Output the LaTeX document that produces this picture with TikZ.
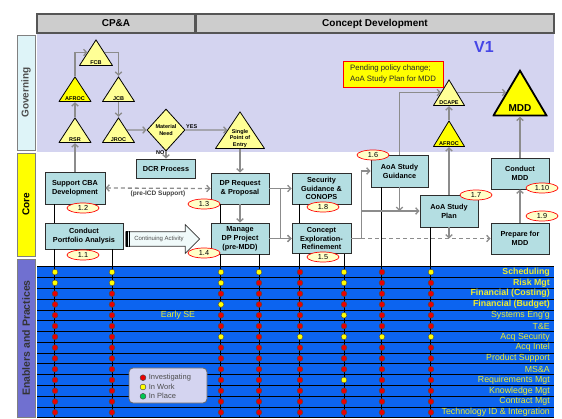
\documentclass[tikz,border=0pt]{standalone}
\usepackage{fontspec}
\setmainfont{Liberation Sans}
\usetikzlibrary{positioning}
\usetikzlibrary{arrows.meta,calc,shapes.geometric,shapes.arrows}

\definecolor{govbg}{RGB}{212,212,240}
\definecolor{boxfill}{RGB}{180,222,226}
\definecolor{boxline}{RGB}{45,45,45}
\definecolor{trilight}{RGB}{255,255,150}
\definecolor{tribright}{RGB}{255,255,0}
\definecolor{tagfill}{RGB}{255,255,200}
\definecolor{rowblue}{RGB}{12,100,240}
\definecolor{rowtext}{RGB}{238,238,45}
\definecolor{flowgray}{RGB}{140,140,140}
\definecolor{dotR}{RGB}{235,0,0}
\definecolor{dotY}{RGB}{255,255,0}
\definecolor{dotG}{RGB}{0,200,80}
\definecolor{hdrgray}{RGB}{205,205,205}
\definecolor{hdrline}{RGB}{85,85,85}
\definecolor{tabcyan}{RGB}{222,244,248}
\definecolor{tabpurple}{RGB}{112,112,208}
\definecolor{vblue}{RGB}{70,70,230}
\definecolor{arrowfill}{RGB}{240,250,250}

\tikzset{
  hdr/.style={draw=hdrline, line width=1.2pt, fill=hdrgray, minimum height=19pt,
    inner sep=0pt, font=\bfseries\fontsize{10}{12}\selectfont},
  sidetab/.style={draw=gray, line width=0.8pt, rotate=90, minimum height=18pt,
    inner sep=0pt, font=\bfseries\fontsize{10}{12}\selectfont},
  procbox/.style={draw=boxline, line width=0.9pt, fill=boxfill, align=center,
    inner sep=1pt, font=\bfseries\fontsize{7.3}{8.8}\selectfont},
  numtag/.style={ellipse, draw=red, line width=0.7pt, fill=tagfill, minimum width=32pt,
    minimum height=10pt, inner sep=0pt, font=\fontsize{7.3}{8}\selectfont},
  tri/.style={inner sep=0pt, path picture={
    \filldraw[fill=#1, draw=black, line width=0.8pt, line join=round]
      ([shift={(0.5pt,0.5pt)}]path picture bounding box.south west) --
      ([yshift=-0.9pt]path picture bounding box.north) --
      ([shift={(-0.5pt,0.5pt)}]path picture bounding box.south east) -- cycle;}},
  tri/.default=trilight,
  mddtri/.style={inner sep=0pt, path picture={
    \filldraw[fill=tribright, draw=black, line width=1.8pt]
      ([shift={(1pt,1pt)}]path picture bounding box.south west) --
      ([yshift=-2.2pt]path picture bounding box.north) --
      ([shift={(-1pt,1pt)}]path picture bounding box.south east) -- cycle;}},
  trilbl/.style={anchor=south, inner sep=1.8pt, align=center,
    font=\bfseries\fontsize{5.5}{6.3}\selectfont},
  smalllbl/.style={inner sep=1pt, font=\bfseries\fontsize{5.5}{6.3}\selectfont},
  flowline/.style={draw=flowgray, line width=1.3pt, ->},
  dflowline/.style={flowline, dash pattern=on 4pt off 3pt},
  dropline/.style={draw=black, line width=0.7pt},
  statdot/.style={circle, draw=black!70, line width=0.5pt, inner sep=0pt, minimum size=5.8pt},
  rowlbl/.style={anchor=east, text=rowtext, inner sep=0pt, font=\fontsize{8.8}{9}\selectfont},
  rowbold/.style={rowlbl, font=\bfseries\fontsize{8.8}{9}\selectfont},
  legtxt/.style={inner sep=0.5pt, text=black!70, font=\fontsize{7.5}{8}\selectfont},
}

\begin{document}
\begin{tikzpicture}[x=1pt,y=-1pt,>={Straight Barb[length=3pt,width=6.5pt]}]
\useasboundingbox (0,0) rectangle (562,419);

\fill[govbg] (37,33) rectangle (554,152);
\fill[rowblue] (37,266.7) rectangle (554,417.7);
\foreach \i in {0,...,14}
  \draw[black, line width=0.7pt] (37,{266.7+\i*10.79}) -- (554,{266.7+\i*10.79});
\coordinate (bot) at (37,417.7);

\node[hdr, minimum width=158pt] (hcpa) at (116,23.5) {CP\&A};
\node[hdr, minimum width=358pt] (hcd) at (375,23.5) {Concept Development};

\node[sidetab, fill=tabcyan, text=black!70, minimum width=115pt] (gov) at (26,92.5) {Governing};
\node[sidetab, fill=tribright, minimum width=103pt] (core) at (26,204.5) {Core};
\node[sidetab, fill=tabpurple, text=black!80, font=\bfseries\fontsize{10.5}{12}\selectfont,
  minimum width=158pt] (enab) at (26,338) {Enablers and Practices};

\foreach \r/\t/\s in {1/Scheduling/rowbold, 2/Risk Mgt/rowbold,
    3/Financial (Costing)/rowbold, 4/Financial (Budget)/rowbold,
    5/Systems Eng'g/rowlbl, 6/T\&E/rowlbl, 7/Acq Security/rowlbl, 8/Acq Intel/rowlbl,
    9/Product Support/rowlbl, 10/MS\&A/rowlbl, 11/Requirements Mgt/rowlbl,
    12/Knowledge Mgt/rowlbl, 13/Contract Mgt/rowlbl, 14/Technology ID \& Integration/rowlbl}
  \node[\s] (lbl\r) at (550,{266.7+(\r-0.5)*10.79}) {\t};
\node[rowlbl, anchor=center] (early) at (178,315.3) {Early SE};

\node[font=\bfseries\fontsize{16}{16}\selectfont, text=vblue] (ver) at (484,47) {V1};
\node[draw=red, line width=0.9pt, fill=tribright, minimum width=100pt, minimum height=26pt,
  align=left, text=black!85, font=\fontsize{7.8}{10.5}\selectfont] (pend) at (393,74)
  {Pending policy change;\\AoA Study Plan for MDD};

\node[tri, minimum width=34pt, minimum height=27pt, label={[trilbl]south:FCB}] (fcb) at (96,52.5) {};
\node[tri=tribright, minimum width=33pt, minimum height=26pt, label={[trilbl]south:AFROC}] (afrocg) at (75,89) {};
\node[tri, minimum width=33pt, minimum height=26pt, label={[trilbl]south:JCB}] (jcb) at (118.5,89) {};
\node[tri, minimum width=33pt, minimum height=26pt, label={[trilbl]south:RSR}] (rsr) at (75,130) {};
\node[tri, minimum width=33pt, minimum height=26pt, label={[trilbl]south:JROC}] (jroc) at (118.5,130) {};
\node[diamond, draw=black, line width=0.8pt, fill=trilight, minimum width=38pt, minimum height=42pt,
  inner sep=0pt, align=center, font=\bfseries\fontsize{5.5}{6.5}\selectfont] (matneed) at (166,130) {Material\\Need};
\node[tri, minimum width=50pt, minimum height=38pt,
  label={[trilbl]south:Single\\Point of\\Entry}] (spe) at (240,130) {};
\node[tri, minimum width=32pt, minimum height=27pt, label={[trilbl]south:DCAPE}] (dcape) at (449,92.5) {};
\node[tri=tribright, minimum width=32pt, minimum height=27pt, label={[trilbl]south:AFROC}] (afrocc) at (449,133.5) {};
\node[mddtri, minimum width=55pt, minimum height=48pt,
  label={[trilbl, inner sep=5pt, font=\bfseries\fontsize{10}{12}\selectfont]south:MDD}] (mdd) at (520,92.5) {};

\node[procbox, minimum width=60pt, minimum height=32pt] (cba) at (75,188) {Support CBA\\Development};
\node[procbox, minimum width=78pt, minimum height=26pt] (cport) at (84,236) {Conduct\\Portfolio Analysis};
\node[procbox, minimum width=59pt, minimum height=19pt] (dcr) at (166,168.5) {DCR Process};
\node[procbox, minimum width=58pt, minimum height=31pt] (dpreq) at (240,188.5) {DP Request\\\& Proposal};
\node[procbox, minimum width=58pt, minimum height=31pt] (mdp) at (240,238.5) {Manage\\DP Project\\(pre-MDD)};
\node[procbox, minimum width=59pt, minimum height=31pt] (secg) at (321.5,188.5) {Security\\Guidance \&\\CONOPS};
\node[procbox, minimum width=59pt, minimum height=30pt] (cexp) at (321.5,238.5) {Concept\\Exploration-\\Refinement};
\node[procbox, minimum width=57pt, minimum height=32pt] (aoag) at (399.5,171) {AoA Study\\Guidance};
\node[procbox, minimum width=58pt, minimum height=32pt] (aoap) at (449,211) {AoA Study\\Plan};
\node[procbox, minimum width=58pt, minimum height=31pt] (cmdd) at (520,173.5) {Conduct\\MDD};
\node[procbox, minimum width=58pt, minimum height=31pt] (pmdd) at (520,238.5) {Prepare for\\MDD};

\node[single arrow, draw=black!80, line width=0.7pt, fill=arrowfill, minimum height=74pt,
  single arrow head extend=7pt, inner xsep=2pt, inner ysep=4.2pt, text=black!70,
  font=\fontsize{6}{7}\selectfont] (cont) at (159,239) {Continuing Activity};
\draw[line width=1.5pt] ([xshift=1.5pt]cont.before tail) -- ([xshift=1.5pt]cont.after tail);
\draw[line width=0.8pt] ([xshift=3.9pt]cont.before tail) -- ([xshift=3.9pt]cont.after tail);

\draw[dropline] ([xshift=10pt]cba.south west) -- ([xshift=10pt]cport.north west)
  ([xshift=10pt]cport.south west) -- ([xshift=10pt]cport.south west |- bot)
  ([xshift=-11pt]cport.south east) -- ([xshift=-11pt]cport.south east |- bot)
  ([xshift=10pt]dpreq.south west) -- ([xshift=10pt]mdp.north west)
  ([xshift=10pt]mdp.south west) -- ([xshift=10pt]mdp.south west |- bot)
  ([xshift=-10pt]mdp.south east) -- ([xshift=-10pt]mdp.south east |- bot)
  ([xshift=8pt]secg.south west) -- ([xshift=8pt]cexp.north west)
  ([xshift=8pt]cexp.south west) -- ([xshift=8pt]cexp.south west |- bot)
  ([xshift=-7pt]cexp.south east) -- ([xshift=-7pt]cexp.south east |- bot)
  ([xshift=11pt]aoag.south west) -- ([xshift=11pt]aoag.south west |- bot)
  ([xshift=11pt]aoap.south west) -- ([xshift=11pt]aoap.south west |- bot);

\node[numtag] (n11) at (83,255) {1.1};
\node[numtag] (n12) at (83,208) {1.2};
\node[numtag] (n13) at (204,204) {1.3};
\node[numtag] (n14) at (204,253) {1.4};
\node[numtag] (n15) at (323,257) {1.5};
\node[numtag] (n16) at (373,155) {1.6};
\node[numtag] (n17) at (476,195) {1.7};
\node[numtag] (n18) at (323,207) {1.8};
\node[numtag] (n19) at (542,216) {1.9};
\node[numtag] (n110) at (542,188) {1.10};

\foreach \r/\cl in {1/{Y,Y,Y,Y,R,Y,R,Y}, 2/{Y,Y,Y,R,R,Y,R,R}, 3/{R,R,R,R,R,R,R,R},
    4/{R,R,Y,R,R,R,R,R}, 5/{R,R,R,R,R,Y,R,R}, 6/{R,R,R,R,R,R,R,R}, 7/{R,R,Y,R,Y,Y,Y,Y},
    8/{R,R,R,R,R,R,R,R}, 9/{R,R,R,R,R,R,R,R}, 10/{R,R,R,R,R,R,R,R}, 11/{R,R,R,R,R,Y,R,R},
    12/{R,R,R,R,R,R,R,R}, 13/{R,R,R,R,R,R,R,R}, 14/{R,R,R,R,R,R,R,R}}
  \foreach \c [count=\k] in \cl {
    \pgfmathsetmacro\dx{{55,112,221,259,300,344,382,431}[\k-1]}
    \node[statdot, fill=dot\c] (d\r-\k) at (\dx,{266.7+(\r-0.5)*10.79}) {};
  }

\node[draw=black!60, line width=0.8pt, rounded corners=4pt, fill=govbg, minimum width=78pt,
  minimum height=35pt] (leg) at (168,385.5) {};
\node[statdot, fill=dotR] (lr) at (143,377.7) {};
\node[legtxt, right=2pt of lr] (lrt) {Investigating};
\node[statdot, fill=dotY, below=3pt of lr] (ly) {};
\node[legtxt, right=2pt of ly] (lyt) {In Work};
\node[statdot, fill=dotG, below=3pt of ly] (lg) {};
\node[legtxt, right=2pt of lg] (lgt) {In Place};

\coordinate (fcbL) at ($(fcb.south west)!0.5!(fcb.north)$);
\coordinate (fcbR) at ($(fcb.south east)!0.5!(fcb.north)$);
\coordinate (jrocR) at ($(jroc.south east)!0.5!(jroc.north)$);
\coordinate (speL) at ($(spe.south west)!0.5!(spe.north)$);
\coordinate (dcapeL) at ($(dcape.south west)!0.5!(dcape.north)$);
\coordinate (dcapeR) at ($(dcape.south east)!0.5!(dcape.north)$);
\coordinate (mddL) at ($(mdd.south west)!0.5!(mdd.north)$);
\coordinate (j1) at ($(dpreq.east)!0.5!(secg.west)$);
\coordinate (j2) at ([xshift=10pt]cexp.east);

\draw[flowline] (afrocg.north) |- (fcbL);
\draw[flowline] (fcbR) -| (jcb.north);
\draw[flowline] (jcb.south) -- (jroc.north);
\draw[flowline] (rsr.north) -- (afrocg.south);
\draw[flowline] (cba.north) -- (rsr.south);
\draw[flowline] (jrocR) -- (matneed.west);
\draw[flowline] (matneed.east) -- (speL) node[smalllbl, pos=0.15, above] {YES};
\draw[flowline] (matneed.south) -- (dcr.north) node[smalllbl, pos=0.2, left] {NO};
\draw[flowline] (spe.south) -- (dpreq.north);
\draw[dflowline, <->] (cba.east) -- (dpreq.west)
  node[midway, below=2pt, inner sep=0pt, text=black!75, font=\bfseries\fontsize{6.5}{7}\selectfont] {(pre-ICD Support)};
\draw[flowline] (dpreq.south) -- (mdp.north);
\draw[flowline] (dpreq.east) -- (secg.west);
\draw[flowline] (j1) |- (cexp.west);
\draw[flowline] (mdp.east) -- (cexp.west);
\draw[flowline] (cexp.east) -- (j2) |- (aoag.west);
\draw[flowline] (j2 |- aoap.west) -- (aoap.west);
\draw[dflowline] (j2) -- (pmdd.west);
\draw[draw=flowgray, line width=1.3pt] (cexp.east) -- (j2);
\draw[flowline] (aoag.south) -- (aoag.south |- aoap.west);
\draw[flowline] (aoap.south) -- (aoap.south |- pmdd.west);
\draw[flowline] (aoap.north) -- (afrocc.south);
\draw[flowline] (afrocc.north) -- (dcape.south);
\draw[flowline] (aoag.north) |- (dcapeL);
\draw[flowline] (dcapeR) -- (mddL);
\draw[flowline] (cmdd.north) -- (mdd.south);
\draw[flowline] (pmdd.north) -- (cmdd.south);
\end{tikzpicture}
\end{document}
